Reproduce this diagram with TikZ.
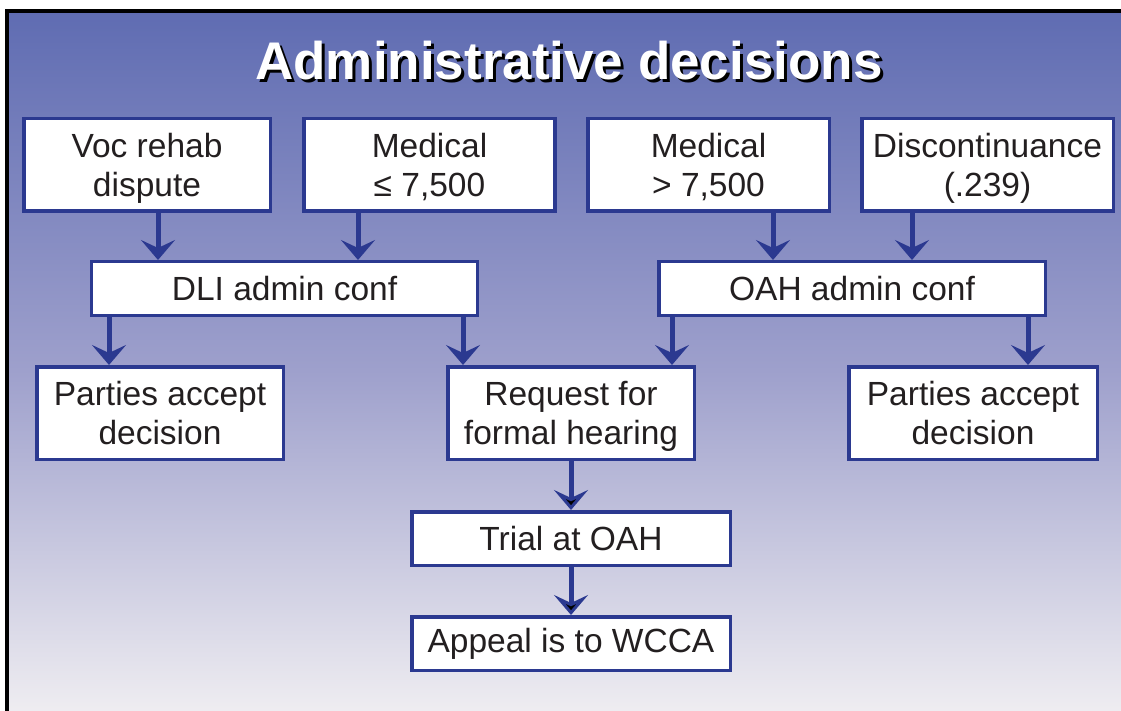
\documentclass[tikz,border=0pt]{standalone}
\usepackage{fontspec}
\setmainfont{Liberation Sans}
\usetikzlibrary{positioning,arrows.meta}
\definecolor{boxblue}{RGB}{43,57,144}
\definecolor{inktext}{RGB}{35,31,32}
\definecolor{bgtop}{RGB}{95,108,178}
\definecolor{bgmid}{RGB}{158,160,204}
\definecolor{bgbot}{RGB}{243,241,243}

\begin{document}
\begin{tikzpicture}[x=1pt, y=-1pt, node distance=48pt,
    box/.style={draw=boxblue, line width=3.5pt, fill=white, text=inktext,
      inner sep=0pt, align=center, minimum height=92.5pt, text depth=-4pt,
      font=\fontsize{33.5}{39}\selectfont},
    bar/.style={box, minimum height=53.5pt, text depth=},
    flow/.style={draw=boxblue, line width=5pt,
      -{Stealth[length=20pt,width=34pt,inset=8pt]}},
    title/.style={font=\fontsize{53}{60}\selectfont\bfseries, anchor=base}]
  \useasboundingbox[fill=white] (0,0) rectangle (1121,711);
  % panel with the blue fade
  \draw[line width=4pt, top color=bgtop, bottom color=bgbot, middle color=bgmid]
    (7,11) rectangle (1140,730);

  \node[title, text=black] (headshadow) at (572,83) {Administrative decisions};
  \node[title, text=white] (head) at (569,80) {Administrative decisions};

  % top row
  \node[box, minimum width=246.5pt] (voc) at (147,165) {Voc rehab\\dispute};
  \node[box, minimum width=251pt] (medlo) at (429.5,165) {Medical\\≤ 7,500};
  \node[box, minimum width=241.5pt] (medhi) at (708.5,165) {Medical\\> 7,500};
  \node[box, minimum width=251.5pt] (disc) at (987.5,165) {Discontinuance\\(.239)};

  % conferences
  \node[bar, minimum width=386pt] (dli) at (284.5,288.5) {DLI admin conf};
  \node[bar, minimum width=386.5pt] (oahc) at (852,288.5) {OAH admin conf};

  % outcomes
  \node[box, minimum width=246.5pt] (acceptl) at (160,413) {Parties accept\\decision};
  \node[box, minimum width=246.5pt] (request) at (571,413) {Request for\\formal hearing};
  \node[box, minimum width=248.5pt] (acceptr) at (973,413) {Parties accept\\decision};
  \node[bar, minimum width=318.5pt] (trial) [below=49pt of request] {Trial at OAH};
  \node[bar, minimum width=318.5pt] (appeal) [below=of trial] {Appeal is to WCCA};

  \draw[flow] ([xshift=11pt]voc.south) -- ([xshift=11pt]voc.south |- dli.north);
  \draw[flow] ([xshift=-71.5pt]medlo.south) -- ([xshift=-71.5pt]medlo.south |- dli.north);
  \draw[flow] ([xshift=64.5pt]medhi.south) -- ([xshift=64.5pt]medhi.south |- oahc.north);
  \draw[flow] ([xshift=-75.5pt]disc.south) -- ([xshift=-75.5pt]disc.south |- oahc.north);

  \draw[flow] ([xshift=-175.5pt]dli.south) -- ([xshift=-175.5pt]dli.south |- acceptl.north);
  \draw[flow] ([xshift=178.5pt]dli.south) -- ([xshift=178.5pt]dli.south |- request.north);
  \draw[flow] ([xshift=-180pt]oahc.south) -- ([xshift=-180pt]oahc.south |- request.north);
  \draw[flow] ([xshift=176pt]oahc.south) -- ([xshift=176pt]oahc.south |- acceptr.north);

  \path[flow] (request) edge (trial)
    (trial) edge (appeal);
\end{tikzpicture}
\end{document}
